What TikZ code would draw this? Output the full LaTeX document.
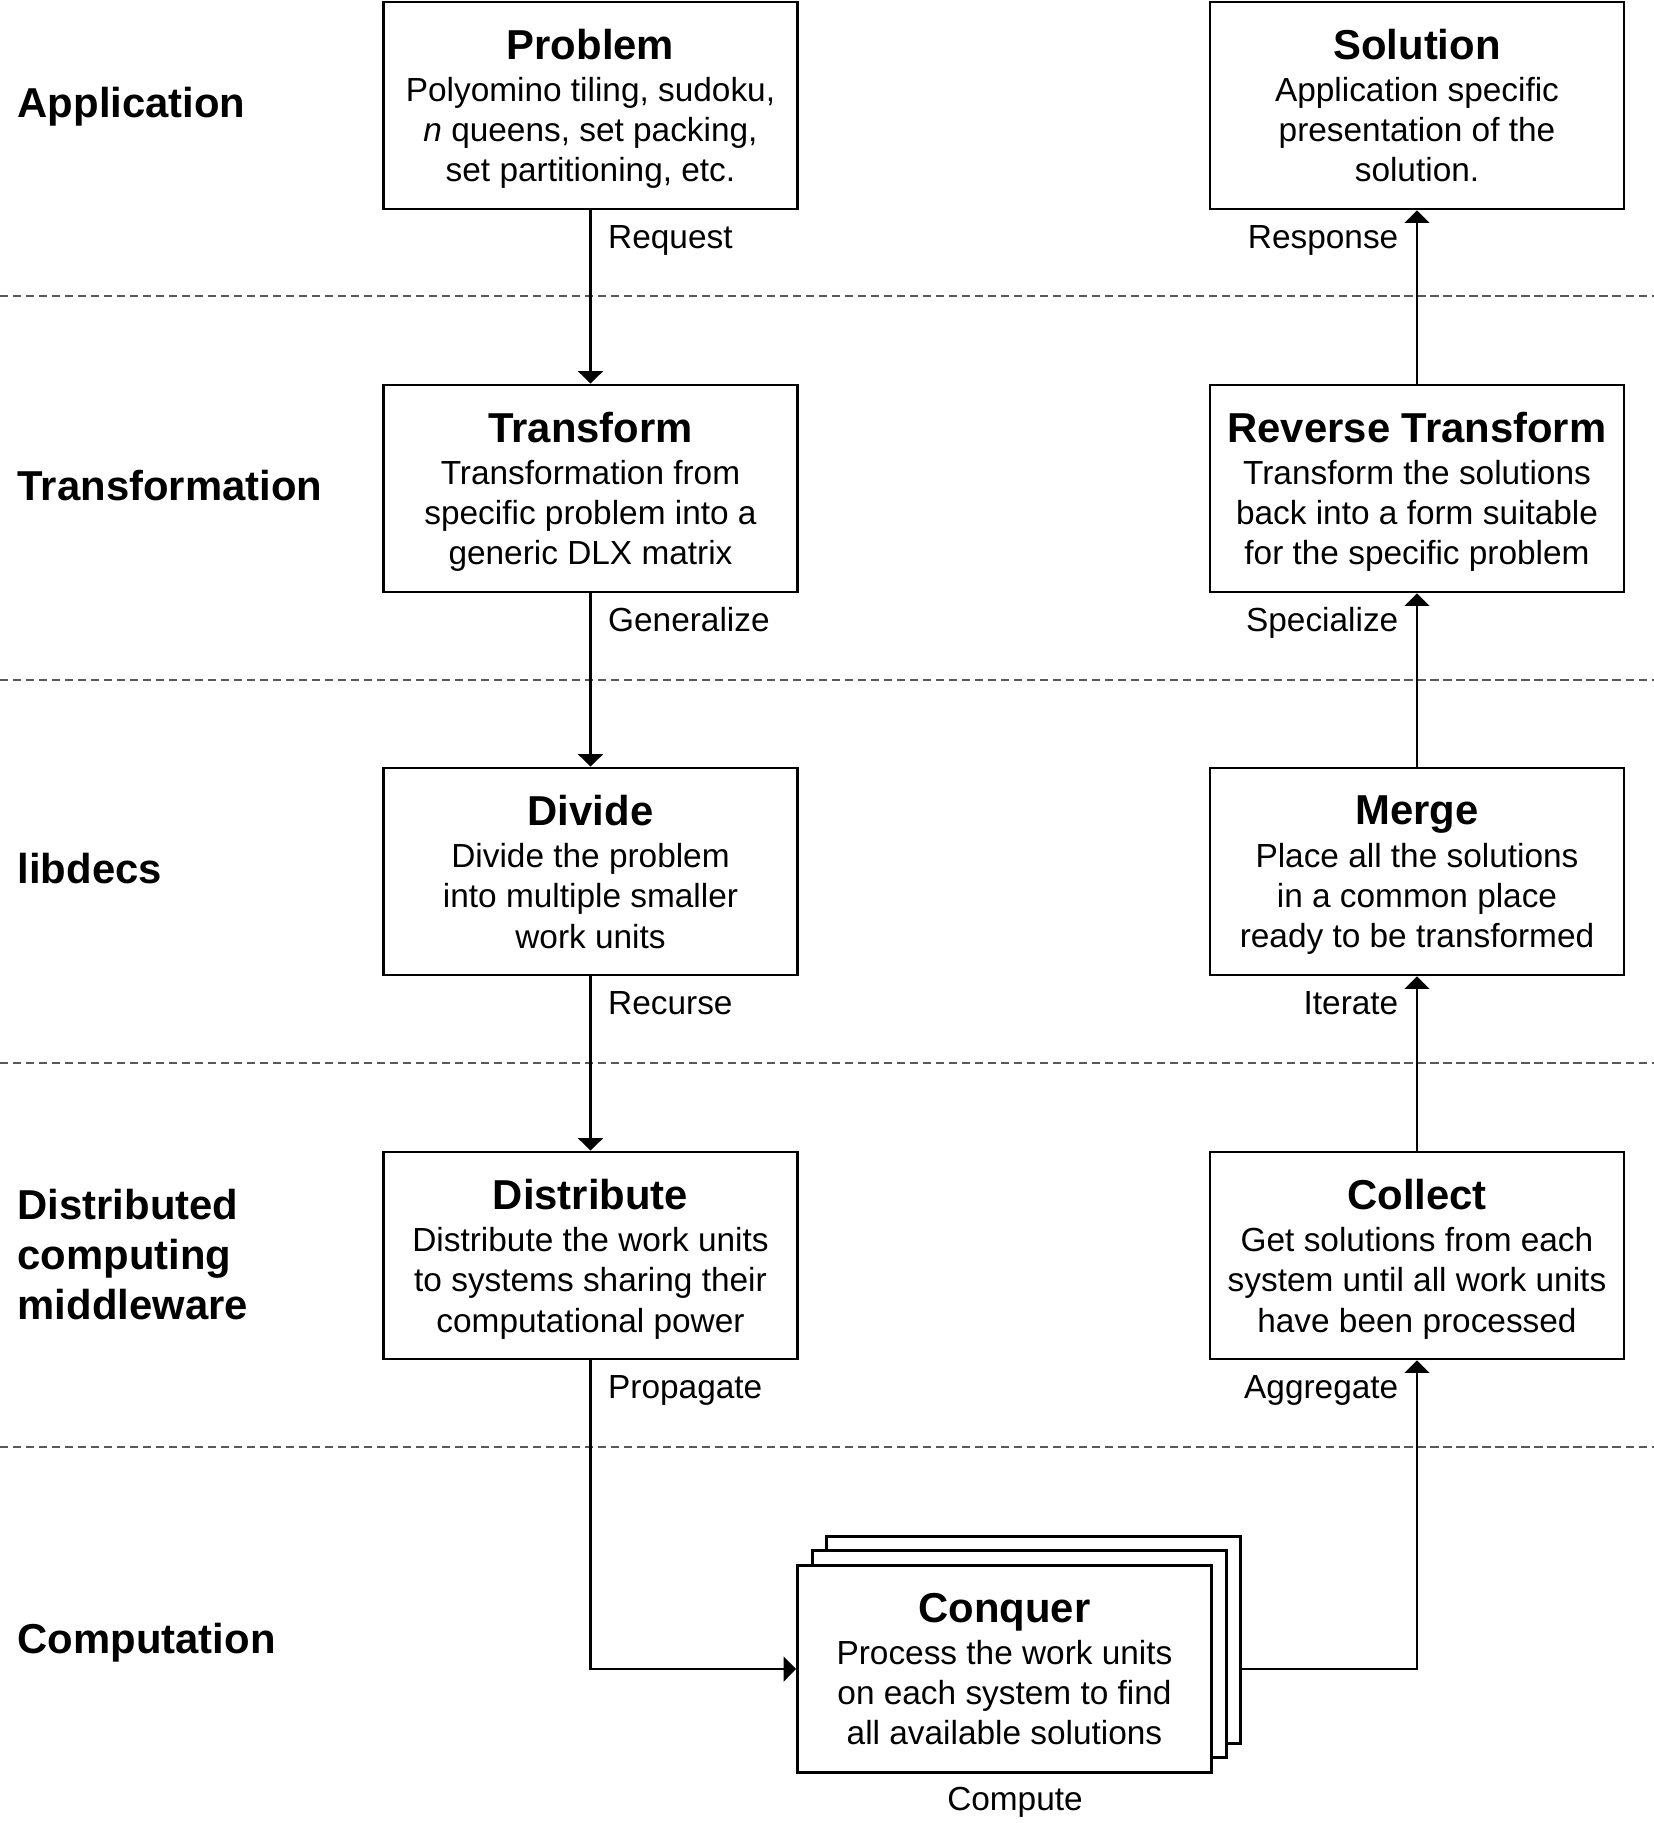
\documentclass[tikz,border=0pt]{standalone}
\usepackage{fontspec}
\setmainfont{Liberation Sans}
\usetikzlibrary{arrows.meta}
\def\boxhead#1{{\fontsize{11.9}{11.4}\selectfont\bfseries #1}}
\tikzset{
  stage/.style={draw, line width=0.75pt, fill=white, minimum width=4.14cm,
    minimum height=2.07cm, align=center, inner sep=0pt, text depth=0pt,
    font=\fontsize{9.5}{11.4}\selectfont},
  layer/.style={inner sep=0pt, align=left, font=\fontsize{11.9}{14.2}\selectfont\bfseries},
  flow/.style={line width=0.65pt, -{Triangle[width=7.1pt,length=3.6pt]}},
  lbl/.style={inner sep=0pt, font=\fontsize{9.5}{11.4}\selectfont},
  sep/.style={black!65, line width=0.35pt, dash pattern=on 2.3pt off 1.4pt}
}

\begin{document}
\begin{tikzpicture}
		%%%%% START %%%%%
		\useasboundingbox (0, 0) rectangle (16.54, -18.23);
		
		\draw[sep] (0, -2.96) -- (16.54, -2.96);
		\draw[sep] (0, -6.80) -- (16.54, -6.80);
		\draw[sep] (0, -10.63) -- (16.54, -10.63);
		\draw[sep] (0, -14.47) -- (16.54, -14.47);
		
		\node[layer, anchor=base west] (lapp) at (0.17, -1.17) {Application};
		\node[layer, anchor=base west] (ltrans) at (0.17, -5.00) {Transformation};
		\node[layer, anchor=base west] (llib) at (0.17, -8.83) {libdecs};
		\node[layer, anchor=north west] (lmid) at (0.17, -11.885) {Distributed\\computing\\middleware};
		\node[layer, anchor=base west] (lcomp) at (0.17, -16.53) {Computation};
		
		\node[stage] (problem) at (5.905, -1.055) {\boxhead{Problem}\\[0.7pt]Polyomino tiling, sudoku,\\\textit{n} queens, set packing,\\set partitioning, etc.};
		\node[stage] (transform) at (5.905, -4.885) {\boxhead{Transform}\\[0.7pt]Transformation from\\specific problem into a\\generic DLX matrix};
		\node[stage] (divide) at (5.905, -8.715) {\boxhead{Divide}\\[0.7pt]Divide the problem\\into multiple smaller\\work units};
		\node[stage] (distribute) at (5.905, -12.555) {\boxhead{Distribute}\\[0.7pt]Distribute the work units\\to systems sharing their\\computational power};
		
		\node[stage] (solution) at (14.17, -1.055) {\boxhead{Solution}\\[0.7pt]Application specific\\presentation of the\\solution.};
		\node[stage] (revtrans) at (14.17, -4.885) {\boxhead{Reverse Transform}\\[0.7pt]Transform the solutions\\back into a form suitable\\for the specific problem};
		\node[stage] (merge) at (14.17, -8.715) {\boxhead{Merge}\\[0.7pt]Place all the solutions\\in a common place\\ready to be transformed};
		\node[stage] (collect) at (14.17, -12.555) {\boxhead{Collect}\\[0.7pt]Get solutions from each\\system until all work units\\have been processed};
		
		\node[stage] (conqback) at (10.335, -16.40) {};
		\node[stage] (conqmid) at (10.195, -16.54) {};
		\node[stage] (conquer) at (10.045, -16.69) {\boxhead{Conquer}\\[0.7pt]Process the work units\\on each system to find\\all available solutions};
		
		\draw[flow] (problem) -- (transform);
		\draw[flow] (transform) -- (divide);
		\draw[flow] (divide) -- (distribute);
		\draw[flow] (distribute) |- (conquer);
		\draw[flow] (conqback.east |- conquer) -| (collect);
		\draw[flow] (collect) -- (merge);
		\draw[flow] (merge) -- (revtrans);
		\draw[flow] (revtrans) -- (solution);
		
		\node[lbl, anchor=base west] (request) at ([xshift=0.17cm, yshift=-0.38cm]problem.south) {Request};
		\node[lbl, anchor=base west] (general) at ([xshift=0.17cm, yshift=-0.38cm]transform.south) {Generalize};
		\node[lbl, anchor=base west] (recurse) at ([xshift=0.17cm, yshift=-0.38cm]divide.south) {Recurse};
		\node[lbl, anchor=base west] (propag) at ([xshift=0.17cm, yshift=-0.38cm]distribute.south) {Propagate};
		\node[lbl, anchor=base east] (response) at ([xshift=-0.18cm, yshift=-0.38cm]solution.south) {Response};
		\node[lbl, anchor=base east] (special) at ([xshift=-0.18cm, yshift=-0.38cm]revtrans.south) {Specialize};
		\node[lbl, anchor=base east] (iterate) at ([xshift=-0.18cm, yshift=-0.38cm]merge.south) {Iterate};
		\node[lbl, anchor=base east] (aggreg) at ([xshift=-0.18cm, yshift=-0.38cm]collect.south) {Aggregate};
		\node[lbl, anchor=base] (compute) at (10.15, -18.10) {Compute};
		%%%%% END %%%%%
	\end{tikzpicture}
\end{document}
